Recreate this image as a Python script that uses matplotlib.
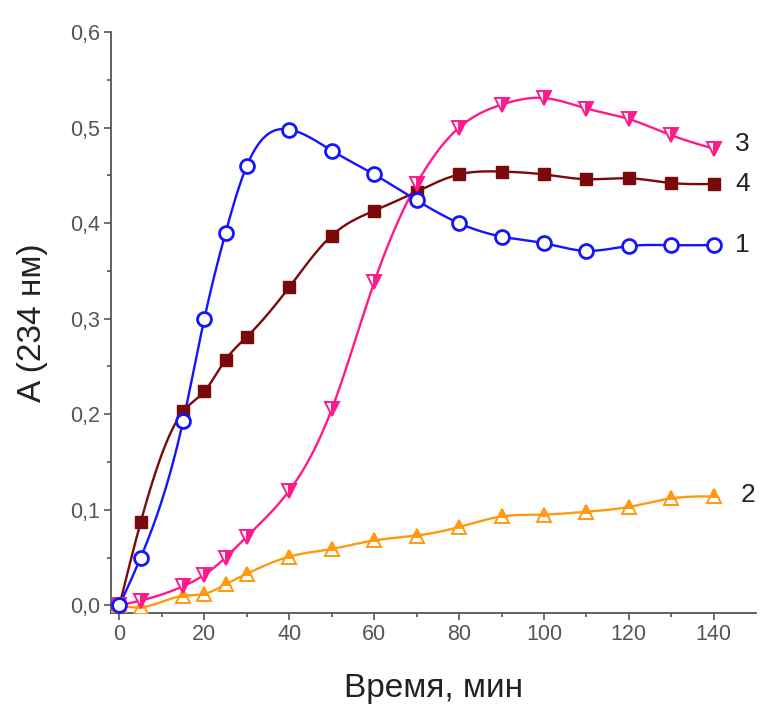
import numpy as np
import matplotlib
matplotlib.use("Agg")
import matplotlib.pyplot as plt
from matplotlib.ticker import MultipleLocator, FuncFormatter, FixedLocator

# ---- data ----
time_min = [0, 5, 15, 20, 25, 30, 40, 50, 60, 70, 80, 90, 100, 110, 120, 130, 140]
series1 = [0.0, 0.050, 0.193, 0.300, 0.390, 0.460, 0.498, 0.476, 0.451, 0.424,
           0.400, 0.386, 0.379, 0.371, 0.376, 0.377, 0.377]
series2 = [0.0, -0.002, 0.010, 0.012, 0.022, 0.033, 0.051, 0.059, 0.068, 0.073,
           0.082, 0.093, 0.095, 0.098, 0.103, 0.112, 0.114]
series3 = [0.0, 0.005, 0.020, 0.032, 0.050, 0.072, 0.120, 0.205, 0.338, 0.441,
           0.500, 0.524, 0.531, 0.520, 0.509, 0.492, 0.478]
series4 = [0.0, 0.087, 0.203, 0.224, 0.257, 0.281, 0.333, 0.387, 0.413, 0.433,
           0.451, 0.454, 0.451, 0.446, 0.447, 0.442, 0.441]
curve_labels = ["1", "2", "3", "4"]
x_label = "Время, мин"
y_label = "A (234 нм)"


def natural_spline(x, y, n=400):
    x = np.asarray(x, float)
    y = np.asarray(y, float)
    m = len(x)
    h = np.diff(x)
    A = np.zeros((m, m))
    b = np.zeros(m)
    A[0, 0] = 1
    A[-1, -1] = 1
    for i in range(1, m - 1):
        A[i, i - 1] = h[i - 1]
        A[i, i] = 2 * (h[i - 1] + h[i])
        A[i, i + 1] = h[i]
        b[i] = 3 * ((y[i + 1] - y[i]) / h[i] - (y[i] - y[i - 1]) / h[i - 1])
    c = np.linalg.solve(A, b)
    bb = (y[1:] - y[:-1]) / h - h * (2 * c[:-1] + c[1:]) / 3
    d = (c[1:] - c[:-1]) / (3 * h)
    xs = np.linspace(x[0], x[-1], n)
    idx = np.clip(np.searchsorted(x, xs) - 1, 0, m - 2)
    dx = xs - x[idx]
    ys = y[idx] + bb[idx] * dx + c[idx] * dx ** 2 + d[idx] * dx ** 3
    return xs, ys


plt.rcParams['font.family'] = ['Liberation Sans', 'DejaVu Sans']

fig = plt.figure(figsize=(7.6, 7.05), dpi=100)
ax = fig.add_axes([0.146, 0.1305, 0.849, 0.824])

blue = "#1414ff"
orange = "#ff9a10"
magenta = "#ff1a8c"
darkred = "#7a0a0a"

styles = [
    (series4, darkred, dict(marker='s', markersize=8.5, markerfacecolor=darkred,
                            markeredgecolor=darkred)),
    (series2, orange, dict(marker='^', markersize=10, fillstyle='top',
                           markerfacecolor=orange, markerfacecoloralt='white',
                           markeredgecolor=orange, markeredgewidth=1.4)),
    (series3, magenta, dict(marker='v', markersize=10, fillstyle='right',
                            markerfacecolor=magenta, markerfacecoloralt='white',
                            markeredgecolor=magenta, markeredgewidth=1.4)),
    (series1, blue, dict(marker='o', markersize=10, markerfacecolor='white',
                         markeredgecolor=blue, markeredgewidth=2.0)),
]

for ys, col, mk in styles:
    sx, sy = natural_spline(time_min, ys)
    ax.plot(sx, sy, color=col, lw=1.7, zorder=2)
    ax.plot(time_min, ys, linestyle='none', zorder=3, **mk)

# curve labels at right end
label_pos = {"1": series1[-1], "2": series2[-1] + 0.002, "3": series3[-1] + 0.005,
             "4": series4[-1]}
for lab in curve_labels:
    xoff = 145.0 if lab != "2" else 146.3
    ax.text(xoff, label_pos[lab], lab, fontsize=19, color="#222222",
            va='center', ha='left')

ax.set_xlim(-2, 150)
ax.set_ylim(-0.008, 0.6)
for s in ['top', 'right']:
    ax.spines[s].set_visible(False)
for s in ['left', 'bottom']:
    ax.spines[s].set_color("#555555")
    ax.spines[s].set_linewidth(1.3)
ax.spines['left'].set_bounds(-0.008, 0.6)

ax.set_xticks(np.arange(0, 141, 20))
ax.xaxis.set_minor_locator(FixedLocator(np.arange(10, 141, 20)))
ax.yaxis.set_major_locator(MultipleLocator(0.1))
ax.yaxis.set_minor_locator(MultipleLocator(0.05))
ax.yaxis.set_major_formatter(FuncFormatter(lambda v, p: f"{v:.1f}".replace('.', ',')))
ax.tick_params(which='major', direction='out', length=5, width=1.2,
               color="#555555", labelsize=15.5, labelcolor="#555555", pad=3)
ax.tick_params(which='minor', direction='out', length=3, width=1.2, color="#555555")

ax.set_xlabel(x_label, fontsize=24, color="#222222", labelpad=20)
ax.set_ylabel(y_label, fontsize=24, color="#222222", labelpad=16)

fig.savefig("out.png", dpi=100)
